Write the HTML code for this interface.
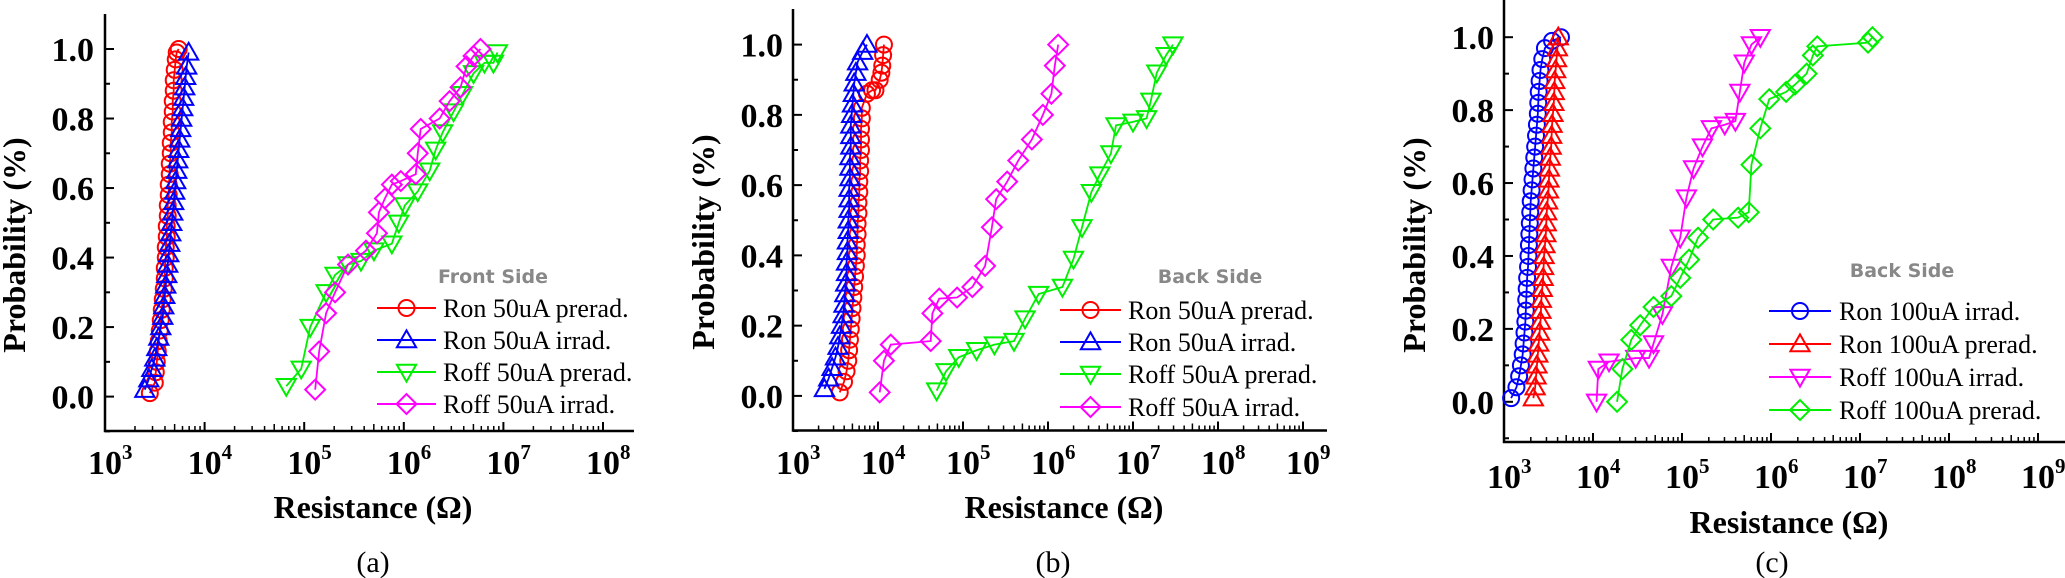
<!DOCTYPE html>
<html><head><meta charset="utf-8"><style>
html,body{margin:0;padding:0;background:#fff;}
svg{display:block;}
</style></head><body>
<svg id="fig" width="2065" height="578" viewBox="0 0 2065 578" xmlns="http://www.w3.org/2000/svg"></svg>
<script>
// ---------- Data (log10 resistance, cumulative probability) ----------
// Panel (a) Front Side
const aRonPreX = [3.45,3.50,3.51,3.52,3.53,3.54,3.55,3.56,3.57,3.58,3.59,3.60,3.60,3.61,3.61,3.62,3.62,3.63,3.63,3.64,3.64,3.65,3.65,3.66,3.66,3.67,3.67,3.68,3.68,3.69,3.69,3.70,3.71,3.72,3.74];
const aRonPreP = [0.01,0.04,0.07,0.10,0.13,0.16,0.19,0.22,0.25,0.28,0.31,0.34,0.37,0.40,0.43,0.46,0.49,0.52,0.55,0.58,0.61,0.64,0.67,0.70,0.73,0.76,0.79,0.82,0.85,0.88,0.91,0.94,0.97,0.99,1.00];
const aRonIrrX = [3.40,3.44,3.47,3.50,3.52,3.54,3.56,3.58,3.59,3.60,3.61,3.62,3.63,3.64,3.65,3.66,3.67,3.68,3.69,3.70,3.71,3.72,3.73,3.74,3.75,3.76,3.77,3.78,3.79,3.80,3.81,3.82,3.84];
const aRonIrrP = [0.02,0.05,0.08,0.11,0.14,0.17,0.20,0.23,0.26,0.29,0.32,0.35,0.38,0.41,0.44,0.47,0.50,0.53,0.56,0.59,0.62,0.65,0.68,0.71,0.74,0.77,0.80,0.83,0.86,0.89,0.92,0.95,0.99];
const aRoffPreX = [4.82,4.97,5.06,5.22,5.31,5.44,5.57,5.70,5.88,5.95,6.01,6.14,6.26,6.32,6.39,6.50,6.59,6.70,6.81,6.90,6.94];
const aRoffPreP = [0.03,0.08,0.20,0.30,0.35,0.38,0.39,0.42,0.44,0.50,0.55,0.59,0.65,0.71,0.76,0.82,0.87,0.93,0.96,0.96,0.99];
const aRoffIrrX = [5.11,5.15,5.22,5.31,5.44,5.62,5.73,5.75,5.81,5.88,5.97,6.12,6.14,6.17,6.36,6.46,6.57,6.63,6.70,6.77];
const aRoffIrrP = [0.02,0.13,0.24,0.30,0.38,0.42,0.47,0.53,0.57,0.61,0.62,0.64,0.70,0.77,0.80,0.85,0.89,0.95,0.98,1.00];
// Panel (b) Back Side 50uA
const bRonPreX = [3.55,3.60,3.63,3.65,3.66,3.67,3.68,3.69,3.70,3.71,3.72,3.73,3.74,3.75,3.75,3.76,3.76,3.77,3.77,3.78,3.78,3.79,3.79,3.80,3.80,3.80,3.81,3.81,3.87,3.93,3.97,4.02,4.04,4.05,4.06,4.07];
const bRonPreP = [0.01,0.04,0.07,0.10,0.13,0.16,0.19,0.22,0.25,0.28,0.31,0.34,0.37,0.40,0.43,0.46,0.49,0.52,0.55,0.58,0.61,0.64,0.67,0.70,0.73,0.76,0.79,0.82,0.86,0.87,0.87,0.90,0.92,0.94,0.97,1.00];
const bRonIrrX = [3.37,3.42,3.46,3.50,3.53,3.55,3.57,3.59,3.60,3.61,3.62,3.63,3.63,3.64,3.64,3.65,3.65,3.66,3.66,3.66,3.67,3.67,3.67,3.68,3.68,3.68,3.69,3.70,3.71,3.72,3.74,3.76,3.82,3.87];
const bRonIrrP = [0.02,0.05,0.08,0.11,0.14,0.17,0.20,0.23,0.26,0.29,0.32,0.35,0.38,0.41,0.44,0.47,0.50,0.53,0.56,0.59,0.62,0.65,0.68,0.71,0.74,0.77,0.80,0.83,0.86,0.89,0.92,0.95,0.98,1.00];
const bRoffPreX = [4.69,4.80,4.95,5.16,5.37,5.60,5.73,5.89,6.17,6.30,6.40,6.51,6.61,6.74,6.80,7.00,7.16,7.21,7.28,7.39,7.47];
const bRoffPreP = [0.015,0.07,0.11,0.13,0.146,0.156,0.22,0.29,0.31,0.39,0.48,0.58,0.63,0.69,0.77,0.78,0.79,0.84,0.92,0.97,1.00];
const bRoffIrrX = [4.02,4.07,4.15,4.62,4.64,4.72,4.93,5.11,5.26,5.34,5.39,5.52,5.65,5.81,5.94,6.04,6.08,6.12];
const bRoffIrrP = [0.01,0.10,0.146,0.156,0.235,0.277,0.28,0.31,0.37,0.48,0.56,0.61,0.67,0.73,0.80,0.86,0.94,1.00];
// Panel (c) Back Side 100uA
const cRonIrrX = [3.08,3.14,3.17,3.19,3.21,3.22,3.23,3.24,3.245,3.25,3.255,3.26,3.27,3.275,3.28,3.285,3.29,3.295,3.30,3.31,3.32,3.33,3.34,3.35,3.36,3.37,3.38,3.385,3.39,3.40,3.41,3.43,3.46,3.54,3.64];
const cRonIrrP = [0.01,0.04,0.07,0.10,0.13,0.16,0.19,0.22,0.25,0.28,0.31,0.34,0.37,0.40,0.43,0.46,0.49,0.52,0.55,0.58,0.61,0.64,0.67,0.70,0.73,0.76,0.79,0.82,0.85,0.88,0.91,0.94,0.97,0.99,1.00];
const cRonPreX = [3.33,3.35,3.36,3.37,3.38,3.39,3.40,3.41,3.415,3.42,3.43,3.44,3.445,3.45,3.46,3.47,3.475,3.48,3.49,3.50,3.505,3.51,3.52,3.53,3.535,3.54,3.55,3.56,3.565,3.57,3.58,3.59,3.60,3.61];
const cRonPreP = [0.01,0.04,0.07,0.10,0.13,0.16,0.19,0.22,0.25,0.28,0.31,0.34,0.37,0.40,0.43,0.46,0.49,0.52,0.55,0.58,0.61,0.64,0.67,0.70,0.73,0.76,0.79,0.82,0.85,0.88,0.91,0.94,0.97,1.00];
const cRoffIrrX = [4.04,4.06,4.18,4.48,4.63,4.68,4.78,4.88,4.98,5.05,5.13,5.23,5.33,5.48,5.60,5.65,5.70,5.78,5.88];
const cRoffIrrP = [0.00,0.09,0.11,0.12,0.12,0.16,0.24,0.37,0.45,0.56,0.64,0.70,0.75,0.76,0.77,0.85,0.93,0.98,1.00];
const cRoffPreX = [4.27,4.33,4.43,4.53,4.68,4.88,4.98,5.08,5.18,5.35,5.63,5.75,5.78,5.88,5.98,6.17,6.27,6.40,6.47,6.52,7.09,7.14];
const cRoffPreP = [0.00,0.09,0.17,0.21,0.26,0.29,0.34,0.39,0.45,0.50,0.505,0.52,0.65,0.75,0.83,0.85,0.87,0.90,0.95,0.975,0.985,1.00];
const yTicks = [0.0,0.2,0.4,0.6,0.8,1.0];
const yTickLabels = ["0.0","0.2","0.4","0.6","0.8","1.0"];

const RED="#ff0000", BLUE="#0000ff", GREEN="#00ee00", MAG="#ff00ff";
const NS="http://www.w3.org/2000/svg";
const svg=document.getElementById('fig');
function mk(tag,attrs,parent){const e=document.createElementNS(NS,tag);for(const k in attrs)e.setAttribute(k,attrs[k]);(parent||svg).appendChild(e);return e;}

const panels=[
 {id:'a',x0:105,dec:99.6,xmaxDec:5,right:634,p0:396.6,p1:49,top:14,bottom:431,ytickEnd:94,tickBase:474,xlabX:373,xlabY:518,ylabX:14,ylabY:245,capX:373,capY:572,
  sideText:'Front Side',sideX:493,sideY:283,legLine:[377,436],legText:443,legY:[308,340,372,404],
  series:[
   {name:'ron-50ua-prerad',label:'Ron 50uA prerad.',x:aRonPreX,p:aRonPreP,c:RED,m:'circle'},
   {name:'ron-50ua-irrad',label:'Ron 50uA irrad.',x:aRonIrrX,p:aRonIrrP,c:BLUE,m:'up'},
   {name:'roff-50ua-prerad',label:'Roff 50uA prerad.',x:aRoffPreX,p:aRoffPreP,c:GREEN,m:'down'},
   {name:'roff-50ua-irrad',label:'Roff 50uA irrad.',x:aRoffIrrX,p:aRoffIrrP,c:MAG,m:'diamond'}]},
 {id:'b',x0:793,dec:85,xmaxDec:6,right:1327,p0:395.9,p1:44.6,top:9,bottom:430.5,ytickEnd:783,tickBase:474,xlabX:1064,xlabY:518,ylabX:703,ylabY:242,capX:1053,capY:572,
  sideText:'Back Side',sideX:1210,sideY:283,legLine:[1060,1121],legText:1128,legY:[310,342,374,407],
  series:[
   {name:'ron-50ua-prerad',label:'Ron 50uA prerad.',x:bRonPreX,p:bRonPreP,c:RED,m:'circle'},
   {name:'ron-50ua-irrad',label:'Ron 50uA irrad.',x:bRonIrrX,p:bRonIrrP,c:BLUE,m:'up'},
   {name:'roff-50ua-prerad',label:'Roff 50uA prerad.',x:bRoffPreX,p:bRoffPreP,c:GREEN,m:'down'},
   {name:'roff-50ua-irrad',label:'Roff 50uA irrad.',x:bRoffIrrX,p:bRoffIrrP,c:MAG,m:'diamond'}]},
 {id:'c',x0:1504,dec:89,xmaxDec:6,right:2065,p0:401.8,p1:37.2,top:0,bottom:442,ytickEnd:1494,tickBase:488,xlabX:1789,xlabY:533,ylabX:1414,ylabY:245,capX:1772,capY:572,
  sideText:'Back Side',sideX:1902,sideY:277,legLine:[1769,1831],legText:1839,legY:[311,344,377,410],
  series:[
   {name:'ron-100ua-irrad',label:'Ron 100uA irrad.',x:cRonIrrX,p:cRonIrrP,c:BLUE,m:'circle'},
   {name:'ron-100ua-prerad',label:'Ron 100uA prerad.',x:cRonPreX,p:cRonPreP,c:RED,m:'up'},
   {name:'roff-100ua-irrad',label:'Roff 100uA irrad.',x:cRoffIrrX,p:cRoffIrrP,c:MAG,m:'down'},
   {name:'roff-100ua-prerad',label:'Roff 100uA prerad.',x:cRoffPreX,p:cRoffPreP,c:GREEN,m:'diamond'}]}
];

function marker(g,type,cx,cy,c,s){
 let e;
 if(type==='circle') e=mk('circle',{cx:cx,cy:cy,r:s*0.5,fill:'none',stroke:c,'stroke-width':2},g);
 else if(type==='up') e=mk('polygon',{points:`${cx},${cy-s*0.6} ${cx-s*0.6},${cy+s*0.45} ${cx+s*0.6},${cy+s*0.45}`,fill:'none',stroke:c,'stroke-width':2},g);
 else if(type==='down') e=mk('polygon',{points:`${cx},${cy+s*0.6} ${cx-s*0.6},${cy-s*0.45} ${cx+s*0.6},${cy-s*0.45}`,fill:'none',stroke:c,'stroke-width':2},g);
 else e=mk('polygon',{points:`${cx},${cy-s*0.62} ${cx+s*0.62},${cy} ${cx},${cy+s*0.62} ${cx-s*0.62},${cy}`,fill:'none',stroke:c,'stroke-width':2},g);
 return e;
}

const serif='"Liberation Serif", serif';
panels.forEach(P=>{
 const g=mk('g',{});
 
 
 const X=v=>P.x0+(v-3)*P.dec;
 const Y=p=>P.p0-(p)*(P.p0-P.p1);
 const ax=mk('path',{d:`M${P.x0},${P.top} L${P.x0},${P.bottom} L${P.right},${P.bottom}`,fill:'none',stroke:'#000','stroke-width':2.5},g);
 
 
 for(let i=0;i<=11;i++){const p=-0.1+i*0.1; if(p>1.1)break; const y=Y(p); const major=(i%2===1);
   mk('line',{x1:P.x0,y1:y,x2:P.x0+(major?9:5),y2:y,stroke:'#000','stroke-width':2},g);}
 yTicks.forEach((t,i)=>{const tx=mk('text',{x:P.ytickEnd,y:Y(t)+12,'text-anchor':'end','font-family':serif,'font-weight':'bold','font-size':34},g);tx.textContent=yTickLabels[i];
   
   });
 for(let d=0;d<=P.xmaxDec;d++){
   const x=X(3+d);
   mk('line',{x1:x,y1:P.bottom,x2:x,y2:P.bottom-9,stroke:'#000','stroke-width':2},g);
   if(d<P.xmaxDec){for(let k=2;k<=9;k++){const xm=X(3+d+Math.log10(k)); if(xm>P.right)break; mk('line',{x1:xm,y1:P.bottom,x2:xm,y2:P.bottom-(k===5?7:5),stroke:'#000','stroke-width':1.5},g);}}
   const t=mk('text',{x:x-17,y:P.tickBase,'font-family':serif,'font-weight':'bold','font-size':34},g);
   
   
   t.appendChild(document.createTextNode('10'));
   const ts=mk('tspan',{dy:-15,'font-size':21},t); ts.textContent=String(3+d);
 }
 const xl=mk('text',{x:P.xlabX,y:P.xlabY,'text-anchor':'middle','font-family':serif,'font-weight':'bold','font-size':32},g);
 xl.textContent='Resistance (Ω)';
 
 
 const yl=mk('text',{x:0,y:0,transform:`translate(${P.ylabX+11},${P.ylabY}) rotate(-90)`,'text-anchor':'middle','font-family':serif,'font-weight':'bold','font-size':32},g);
 yl.textContent='Probability (%)';
 
 
 const cap=mk('text',{x:P.capX,y:P.capY,'text-anchor':'middle','font-family':serif,'font-size':30},g);
 cap.textContent='('+P.id+')';
 
 
 P.series.forEach(S=>{
   const sg=mk('g',{},g);
   
   
   const pts=S.x.map((v,i)=>X(v)+','+Y(S.p[i])).join(' ');
   mk('polyline',{points:pts,fill:'none',stroke:S.c,'stroke-width':1.8},sg);
   S.x.forEach((v,i)=>{const m=marker(sg,S.m,X(v),Y(S.p[i]),S.c,16);
     
     });
 });
 const side=mk('text',{x:P.sideX,y:P.sideY,'text-anchor':'middle','font-family':'"DejaVu Sans", sans-serif','font-weight':'bold','font-size':19,fill:'#888'},g);
 side.textContent=P.sideText;
 
 
 P.series.forEach((S,i)=>{
   const lg=mk('g',{},g);
   
   
   const y=P.legY[i];
   mk('line',{x1:P.legLine[0],y1:y,x2:P.legLine[1],y2:y,stroke:S.c,'stroke-width':2},lg);
   marker(lg,S.m,(P.legLine[0]+P.legLine[1])/2,y,S.c,16);
   const t=mk('text',{x:P.legText,y:y+9,'font-family':serif,'font-size':26},lg);
   t.textContent=S.label;
 });
});
</script>
</body></html>
